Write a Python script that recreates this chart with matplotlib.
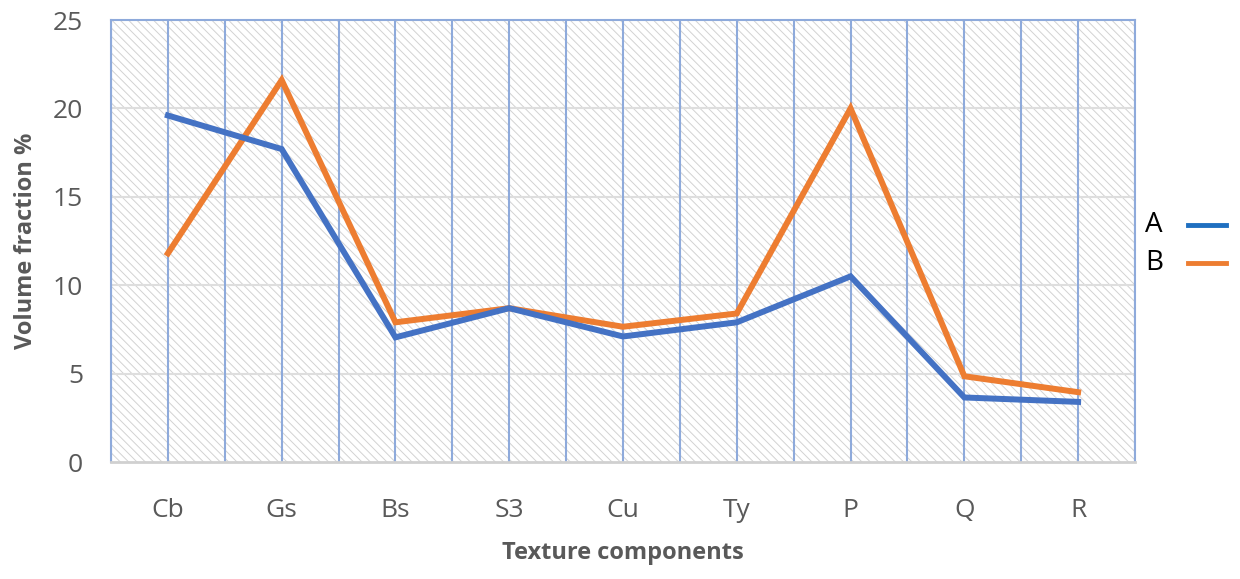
import numpy as np
import matplotlib
matplotlib.use('Agg')
import matplotlib.pyplot as plt
from matplotlib.patches import Rectangle
from matplotlib.lines import Line2D

# Volume fractions of the texture components for the two samples
components = ['Cb', 'Gs', 'Bs', 'S3', 'Cu', 'Ty', 'P', 'Q', 'R']
vf_a = [19.6, 17.7, 7.05, 8.7, 7.1, 7.9, 10.5, 3.65, 3.4]
vf_b = [11.8, 21.6, 7.9, 8.7, 7.65, 8.4, 20.0, 4.85, 3.95]
y_ticks = [0, 5, 10, 15, 20, 25]

blue = '#4472C4'
orange = '#ED7D31'
grey_txt = '#595959'

plt.rcParams['font.family'] = ['Open Sans', 'DejaVu Sans']
plt.rcParams['hatch.linewidth'] = 0.7

fig = plt.figure(figsize=(12.4, 5.79), dpi=100)
ax = fig.add_axes([111 / 1240, 1 - 462 / 579, 1024 / 1240, 442 / 579])

x = np.arange(len(components))

# hatched plot background
bg = Rectangle((0, 0), 1, 1, transform=ax.transAxes, facecolor='white',
               edgecolor='#d2d2d2', hatch='\\\\\\\\', lw=0, zorder=0)
ax.add_patch(bg)

for yv in y_ticks[1:-1]:
    ax.axhline(yv, color='#dedede', lw=1.5, zorder=1)
for xv in np.arange(-0.5, len(components), 0.5):
    ax.axvline(xv, color='#8eaadb', lw=1.5, zorder=2)

ax.plot(x, vf_a, color=blue, lw=4.3, zorder=4, solid_joinstyle='miter')
ax.plot(x, vf_b, color=orange, lw=4.3, zorder=3, solid_joinstyle='miter')

ax.set_xlim(-0.5, len(components) - 0.5)
ax.set_ylim(0, 25)
ax.set_xticks(x)
ax.set_xticklabels(components)
ax.set_yticks(y_ticks)
ax.tick_params(axis='both', length=0, labelsize=19, labelcolor=grey_txt)
ax.tick_params(axis='x', pad=26)
ax.tick_params(axis='y', pad=20)

for side in ['left', 'right', 'top']:
    ax.spines[side].set_color('#8eaadb')
    ax.spines[side].set_linewidth(1.5)
ax.spines['bottom'].set_color('#d0d0d0')
ax.spines['bottom'].set_linewidth(2)

ax.set_xlabel('Texture components', fontsize=17, fontweight='bold',
              color=grey_txt, labelpad=13)
ax.set_ylabel('Volume fraction %', fontsize=17, fontweight='bold',
              color=grey_txt, labelpad=11)

# legend on the right
for lab, col, yp in [('A', '#1f6fc0', 225), ('B', orange, 263)]:
    fig.text(1145 / 1240, 1 - yp / 579, lab, fontsize=20, color='black',
             va='center', ha='left')
    fig.add_artist(Line2D([1188 / 1240, 1226 / 1240], [1 - yp / 579] * 2,
                          color=col, lw=3.5, transform=fig.transFigure))

fig.savefig('out.png', dpi=100)
